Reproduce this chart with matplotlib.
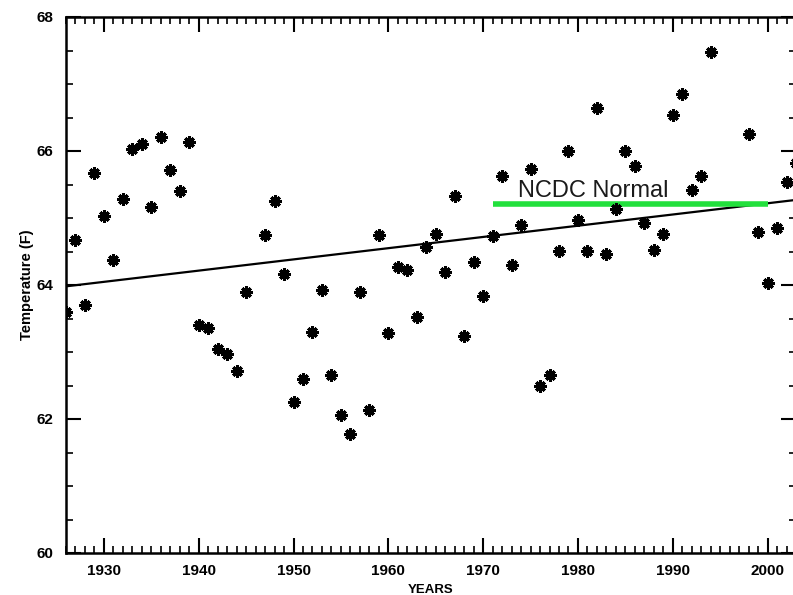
import numpy as np
import matplotlib
matplotlib.use("Agg")
import matplotlib.pyplot as plt
from matplotlib.ticker import MultipleLocator

# Annual mean temperature (F) by year
years = [1926, 1927, 1928, 1929, 1930, 1931, 1932, 1933, 1934, 1935,
         1936, 1937, 1938, 1939, 1940, 1941, 1942, 1943, 1944, 1945,
         1947, 1948, 1949, 1950, 1951, 1952, 1953, 1954, 1955, 1956,
         1957, 1958, 1959, 1960, 1961, 1962, 1963, 1964, 1965, 1966,
         1967, 1968, 1969, 1970, 1971, 1972, 1973, 1974, 1975, 1976,
         1977, 1978, 1979, 1980, 1981, 1982, 1983, 1984, 1985, 1986,
         1987, 1988, 1989, 1990, 1991, 1992, 1993, 1994, 1998, 1999,
         2000, 2001, 2002, 2003]
temps = [63.60, 64.67, 63.70, 65.67, 65.03, 64.37, 65.29, 66.03, 66.10, 65.16,
         66.21, 65.72, 65.40, 66.13, 63.40, 63.36, 63.04, 62.97, 62.72, 63.90,
         64.74, 65.26, 64.16, 62.26, 62.59, 63.30, 63.93, 62.66, 62.06, 61.78,
         63.89, 62.14, 64.74, 63.29, 64.27, 64.23, 63.52, 64.56, 64.76, 64.19,
         65.33, 63.24, 64.35, 63.83, 64.73, 65.63, 64.30, 64.89, 65.73, 62.50,
         62.66, 64.51, 66.00, 64.97, 64.51, 66.64, 64.47, 65.14, 66.00, 65.77,
         64.92, 64.52, 64.76, 66.54, 66.85, 65.42, 65.62, 67.48, 66.25, 64.79,
         64.03, 64.85, 65.53, 65.82]

# Linear trend endpoints
trend_years = [1926, 2003]
trend_temps = [63.98, 65.27]

# 1971-2000 climate normal
normal_years = [1971, 2000]
normal_value = 65.21
normal_label = "NCDC Normal"

x_limits = (1926, 2003)
y_limits = (60, 68)

W, H = 793, 595
fig = plt.figure(figsize=(W / 100, H / 100), dpi=100)
left, right, bottom, top = 66, 796, 553, 17
ax = fig.add_axes([left / W, (H - bottom) / H, (right - left) / W, (bottom - top) / H])

tick_font = dict(family="Liberation Sans", size=11, weight="bold")

ax.plot(trend_years, trend_temps, color="black", lw=1.6, zorder=2)
ax.plot(normal_years, [normal_value] * 2, color="#22e03c", lw=4, solid_capstyle="butt", zorder=3)
ax.text(1973.7, normal_value + 0.11, normal_label, fontsize=17, family="Liberation Sans",
        color="#1a1a1a", ha="left", va="baseline", zorder=4)

for angle in (0, 45):
    ax.plot(years, temps, linestyle="none", marker=(4, 2, angle), markersize=8.5,
            markeredgewidth=2.2, color="black", zorder=5)

ax.set_xlim(*x_limits)
ax.set_ylim(*y_limits)
ax.xaxis.set_major_locator(MultipleLocator(10))
ax.xaxis.set_minor_locator(MultipleLocator(1))
ax.yaxis.set_major_locator(MultipleLocator(2))
ax.yaxis.set_minor_locator(MultipleLocator(0.5))
ax.tick_params(which="both", direction="in", top=True, right=True, color="black")
ax.tick_params(which="major", length=10.5, width=1.5)
ax.tick_params(axis="x", which="major", pad=8)
ax.tick_params(axis="y", which="major", pad=9)
ax.tick_params(which="minor", length=5, width=1.2)
for lab in ax.get_xticklabels() + ax.get_yticklabels():
    lab.set_fontfamily(tick_font["family"])
    lab.set_fontsize(tick_font["size"])
    lab.set_fontweight(tick_font["weight"])
for s in ax.spines.values():
    s.set_linewidth(1.8)

ax.set_xlabel("YEARS", fontsize=9.5, family="Liberation Sans", weight="bold", labelpad=4)
ax.set_ylabel("Temperature (F)", fontsize=10.5, family="Liberation Sans", weight="bold", labelpad=2)

fig.savefig("out.png", dpi=100)
